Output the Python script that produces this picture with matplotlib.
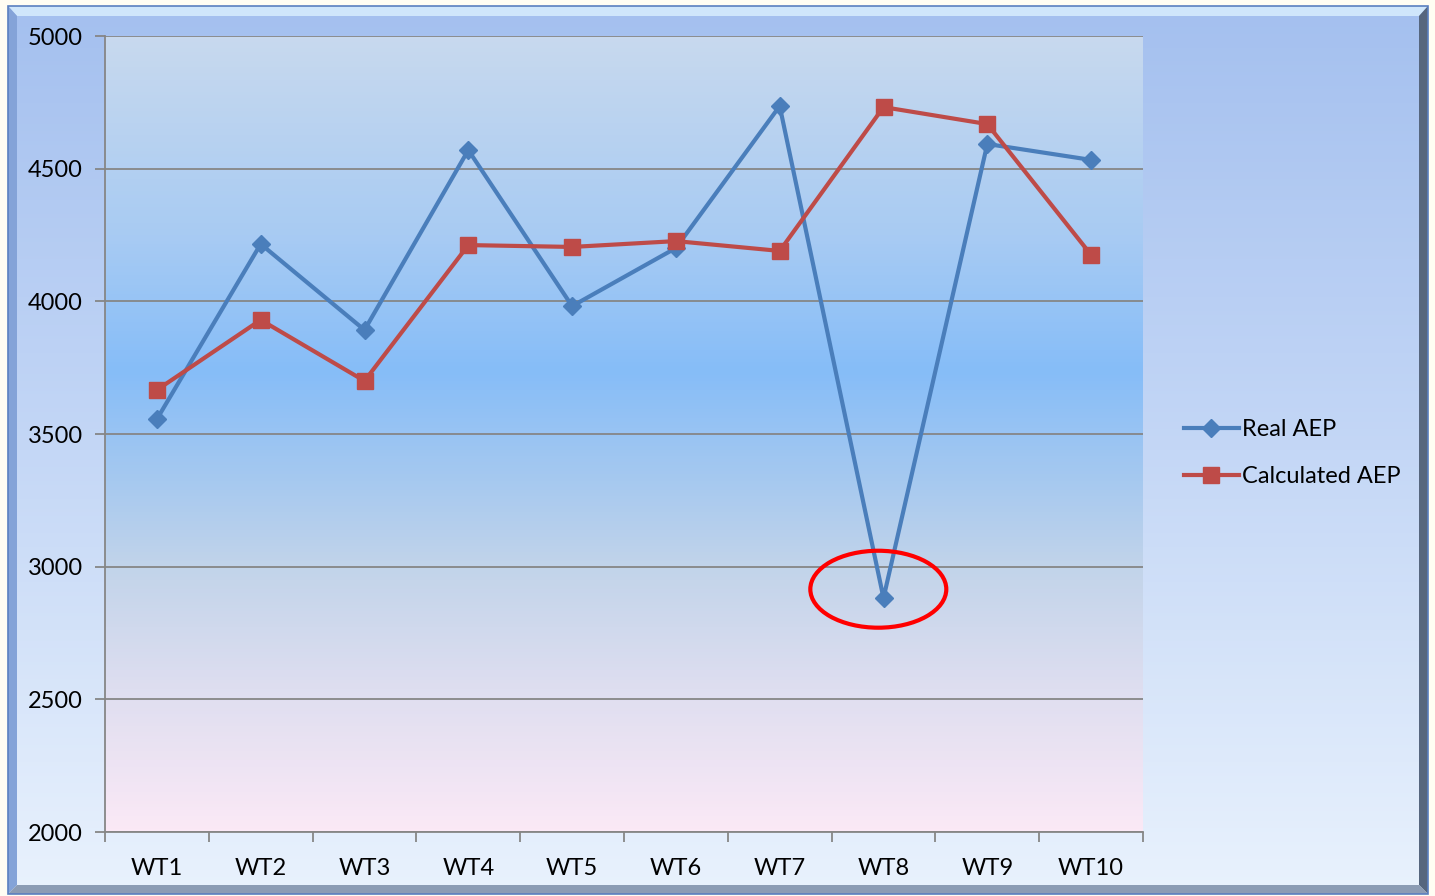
import numpy as np
import matplotlib.pyplot as plt
from matplotlib.colors import LinearSegmentedColormap
from matplotlib.patches import Ellipse, Rectangle, Polygon
from matplotlib.lines import Line2D

plt.rcParams['font.family'] = ['Lato', 'DejaVu Sans']

turbines = ['WT1', 'WT2', 'WT3', 'WT4', 'WT5', 'WT6', 'WT7', 'WT8', 'WT9', 'WT10']
real_aep = [3556, 4216, 3892, 4570, 3982, 4201, 4736, 2882, 4593, 4533]
calc_aep = [3666, 3930, 3700, 4212, 4205, 4227, 4190, 4732, 4668, 4175]
y_ticks = [2000, 2500, 3000, 3500, 4000, 4500, 5000]

blue = '#4a7ebb'
red = '#be4b48'

fig = plt.figure(figsize=(14.35, 8.96), dpi=100)
fig.patch.set_facecolor('#fffdf3')

# background panel with bevelled frame (pixel coords)
bg = fig.add_axes([0, 0, 1, 1], zorder=-10)
bg.set_xlim(0, 1435)
bg.set_ylim(896, 0)
bg.axis('off')
panel_cmap = LinearSegmentedColormap.from_list('panel', ['#a4c0ef', '#c4d7f6', '#e9f2fd'])
grad = np.linspace(0, 1, 256).reshape(-1, 1)
bg.imshow(grad, cmap=panel_cmap, extent=(8, 1428, 894, 6), aspect='auto', zorder=1)
# bevel edges
bg.add_patch(Polygon([(8, 6), (1428, 6), (1419, 16), (17, 16)], closed=True,
                     facecolor='#cfe6fb', edgecolor='none', zorder=2))
bg.add_patch(Polygon([(8, 6), (17, 16), (17, 885), (8, 894)], closed=True,
                     facecolor='#84a3d8', edgecolor='none', zorder=2))
bg.add_patch(Polygon([(1428, 6), (1428, 894), (1419, 885), (1419, 16)], closed=True,
                     facecolor='#56667e', edgecolor='none', zorder=2))
bg.add_patch(Polygon([(8, 894), (17, 885), (1419, 885), (1428, 894)], closed=True,
                     facecolor='#8c9cb4', edgecolor='none', zorder=2))
bg.add_patch(Rectangle((8, 6), 1420, 888, facecolor='none', edgecolor='#5a7fc0', lw=1.2, zorder=3))

ax = fig.add_axes([105 / 1435, 64 / 896, 1038 / 1435, 796 / 896])
ax.set_facecolor('none')
x = np.arange(len(turbines))

# plot area gradient
area_cmap = LinearSegmentedColormap.from_list('area', [
    (0.0, '#c8d9ee'), (0.25, '#a8cbf3'), (0.42, '#86bdf8'), (0.55, '#a4c8f0'),
    (0.67, '#c2d4ea'), (0.82, '#dedef0'), (1.0, '#fbe9f6')])
ax.imshow(grad, cmap=area_cmap, extent=(-0.5, 9.5, 2000, 5000), aspect='auto', zorder=0)

ax.set_xlim(-0.5, 9.5)
ax.set_ylim(2000, 5000)
ax.set_yticks(y_ticks)
ax.yaxis.grid(True, color='#868686', lw=1.3, zorder=1)
ax.set_axisbelow(False)

ax.plot(x, real_aep, color=blue, lw=3, marker='D', markersize=9.5, label='Real AEP', zorder=3)
ax.plot(x, calc_aep, color=red, lw=3, marker='s', markersize=11, label='Calculated AEP', zorder=3)

ax.add_patch(Ellipse((6.95, 2915), 1.31, 290, facecolor='none', edgecolor='#ff0000', lw=3, zorder=4))

ax.set_xticks(x)
ax.set_xticklabels(turbines, fontsize=17)
ax.set_xticks(np.arange(-0.5, 10, 1), minor=True)
ax.tick_params(axis='x', which='major', length=0, pad=19)
ax.tick_params(axis='x', which='minor', length=7, width=1.3, color='#868686', direction='out')
ax.tick_params(axis='y', length=7, width=1.3, color='#868686', labelsize=17, pad=9)

for s in ['top', 'right']:
    ax.spines[s].set_visible(False)
for s in ['left', 'bottom']:
    ax.spines[s].set_color('#868686')
    ax.spines[s].set_linewidth(1.3)
    ax.spines[s].set_zorder(2)

handles = [Line2D([], [], color=blue, lw=3, marker='D', markersize=9.5),
           Line2D([], [], color=red, lw=3, marker='s', markersize=11)]
fig.legend(handles, ['Real AEP', 'Calculated AEP'], loc='center left',
           bbox_to_anchor=(1163 / 1435, 1 - 453 / 896), frameon=False, fontsize=17,
           handlelength=2.3, handletextpad=0.15, labelspacing=1.12)

fig.savefig('out.png', dpi=100, facecolor=fig.get_facecolor())
